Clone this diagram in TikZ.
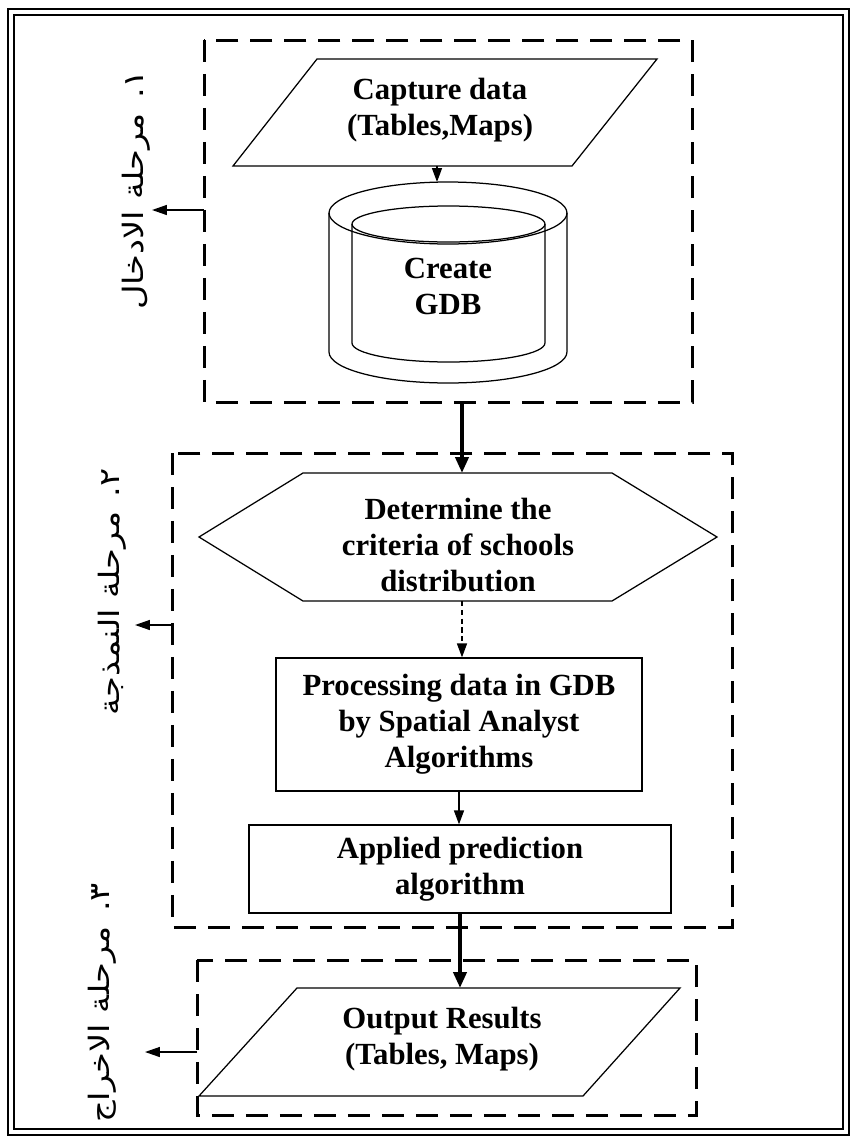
\documentclass[tikz,border=0pt]{standalone}
\usepackage{fontspec}
\setmainfont{Liberation Serif}
\newfontfamily\arabicfont[Script=Arabic]{DejaVu Sans}
\TeXXeTstate=1
\usetikzlibrary{arrows.meta}
\begin{document}
\begin{tikzpicture}[x=0.02cm,y=-0.02cm,
  stage/.style={draw, line width=0.06cm, dash pattern=on 0.44cm off 0.24cm},
  shapeline/.style={draw, line width=0.025cm},
  lbl/.style={font=\bfseries\fontsize{17.5}{20.5}\selectfont, align=center, inner sep=0pt},
  boxnode/.style={draw, line width=0.025cm, font=\bfseries\fontsize{17.5}{20.5}\selectfont, align=center, inner sep=0pt},
  thinarrow/.style={line width=0.03cm, -{Triangle[length=0.28cm,width=0.2cm]}},
  thickarrow/.style={line width=0.08cm, -{Triangle[length=0.32cm,width=0.26cm]}},
  sidearrow/.style={line width=0.03cm, -{Triangle[length=0.3cm,width=0.2cm]}},
  arlbl/.style={font=\arabicfont\fontsize{16}{18}\selectfont, rotate=90, inner sep=0pt}
]
\useasboundingbox (0,0) rectangle (851,1140);
% frame
\draw[line width=0.05cm] (8,9) rectangle (849,1135);
\draw[line width=0.025cm] (14,15) rectangle (843,1129);
% stage boxes
\draw[stage] (204,40) rectangle (692,402);
\draw[stage] (172,453) rectangle (732,927);
\draw[stage] (197,960) rectangle (696,1115);
\coordinate (s1w) at (204,210);
\coordinate (s2w) at (172,625);
\coordinate (s3w) at (197,1052);
\coordinate (s1s) at (462,402);
% capture
\draw[shapeline] (317,59) -- (657,59) -- (572,166) -- (233,166) -- cycle;
\node[lbl] (capture) at (440,110) {Capture data\\(Tables,Maps)};
\coordinate (captureS) at (437,166);
% cylinder
\draw[shapeline] (448,213) ellipse [x radius=2.38cm, y radius=0.62cm];
\draw[shapeline] (329,213) -- (329,352) arc[start angle=180, end angle=360, x radius=2.38cm, y radius=0.62cm] -- (567,213);
\draw[shapeline] (448.5,224) ellipse [x radius=1.93cm, y radius=0.36cm];
\draw[shapeline] (352,224) -- (352,343) arc[start angle=180, end angle=360, x radius=1.93cm, y radius=0.38cm] -- (545,224);
\node[lbl] (gdb) at (448,286) {Create\\GDB};
\coordinate (gdbN) at (437,182);
% hexagon
\draw[shapeline] (199,537) -- (303,473) -- (612,473) -- (717,537) -- (612,601) -- (303,601) -- cycle;
\node[lbl] (criteria) at (458,545) {Determine the\\criteria of schools\\distribution};
\coordinate (hexN) at (462,473);
\coordinate (hexS) at (462,601);
% boxes
\node[boxnode, minimum width=7.32cm, minimum height=2.66cm] (proc) at (459,724.5) {Processing data in GDB\\by Spatial Analyst\\Algorithms};
\node[boxnode, minimum width=8.44cm, minimum height=1.76cm] (applied) at (460,869) {Applied prediction\\algorithm};
% output
\draw[shapeline] (297,988) -- (680,988) -- (583,1096) -- (199,1096) -- cycle;
\node[lbl] (output) at (442,1039) {Output Results\\(Tables, Maps)};
\coordinate (outN) at (460,988);
% connectors
\draw[thinarrow] (captureS) -- (gdbN);
\draw[thickarrow] (s1s) -- (hexN);
\draw[thinarrow, densely dashed] (hexS) -- (hexS |- proc.north);
\draw[thinarrow] (proc.south) -- (proc.south |- applied.north);
\draw[thickarrow] (applied.south) -- (outN);
% side labels
\coordinate (a1) at (152,210);
\coordinate (a2) at (135,625);
\coordinate (a3) at (145,1052);
\draw[sidearrow] (s1w) -- (a1);
\draw[sidearrow] (s2w) -- (a2);
\draw[sidearrow] (s3w) -- (a3);
\node[arlbl] (lab1) at (136,190) {\scalebox{1.2}[1]{\beginR ١. مرحلة الادخال\endR}};
\node[arlbl] (lab2) at (112,592) {\scalebox{1.2}[1]{\beginR ٢. مرحلة النمذجة\endR}};
\node[arlbl] (lab3) at (102,1003) {\scalebox{1.2}[1]{\beginR ٣. مرحلة الاخراج\endR}};
\end{tikzpicture}
\end{document}
